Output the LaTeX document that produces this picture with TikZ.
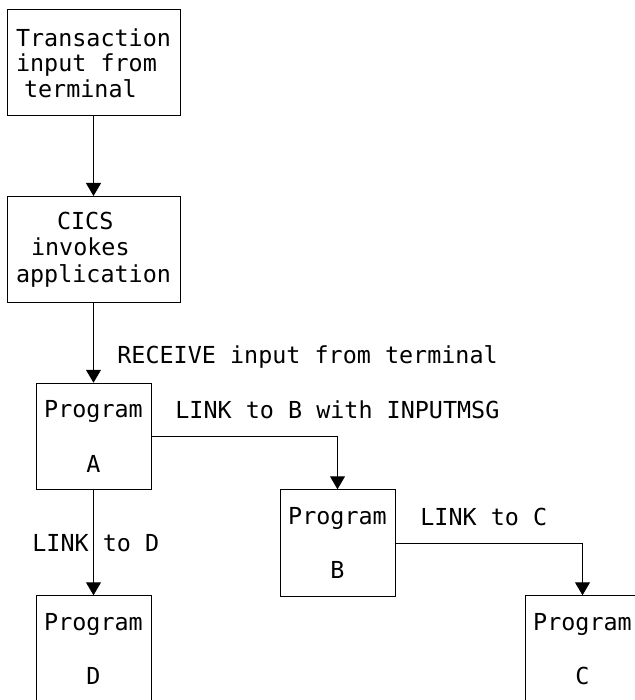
\documentclass[tikz,border=0pt]{standalone}
\usepackage{fontspec}
\setmainfont{DejaVu Sans Mono}
\usetikzlibrary{arrows.meta}
\begin{document}
\begin{tikzpicture}[x=0.5pt,y=-0.5pt,
  every node/.style={font=\fontsize{11.7pt}{12.75pt}\selectfont},
  boxnode/.style={draw,line width=0.5pt,inner sep=0pt,align=left},
  bigbox/.style={boxnode,minimum width=86.5pt,minimum height=53pt},
  prog/.style={boxnode,align=center,minimum width=57.5pt,minimum height=53.25pt},
  lbl/.style={anchor=west,inner sep=0pt},
  arr/.style={line width=0.5pt,-{Triangle[width=7.5pt,length=6.5pt]}}]
\useasboundingbox (0,0) rectangle (635,700);
\node[bigbox] (t) at (93.5,63) {Transaction\\input from\\\hspace*{4pt}terminal};
\node[bigbox,font=\fontsize{11.7pt}{13.25pt}\selectfont] (c) at (93.5,249.5) {\hspace*{20.5pt}CICS\\\hspace*{7.5pt}invokes\\application};
\node[prog] (a) at (93.5,436.5) {Program\\[14.5pt]A};
\node[prog] (b) at (337.5,543) {Program\\[14.5pt]B};
\node[prog] (cc) at (582.5,649) {Program\\[14.5pt]C};
\node[prog] (d) at (93.5,649) {Program\\[14.5pt]D};
\draw[arr] (t.south) -- (c.north);
\draw[arr] (c.south) -- (a.north);
\draw[arr] (a.east) -- (a.east -| b.north) -- (b.north);
\draw[arr] (b.east) -- (b.east -| cc.north) -- (cc.north);
\draw[arr] (a.south) -- (d.north);
\node[lbl] (l1) at (117,357) {RECEIVE input from terminal};
\node[lbl] (l2) at (175,410) {LINK to B with INPUTMSG};
\node[lbl] (l3) at (420,517) {LINK to C};
\node[lbl] (l4) at (32,543) {LINK to D};
\end{tikzpicture}
\end{document}
